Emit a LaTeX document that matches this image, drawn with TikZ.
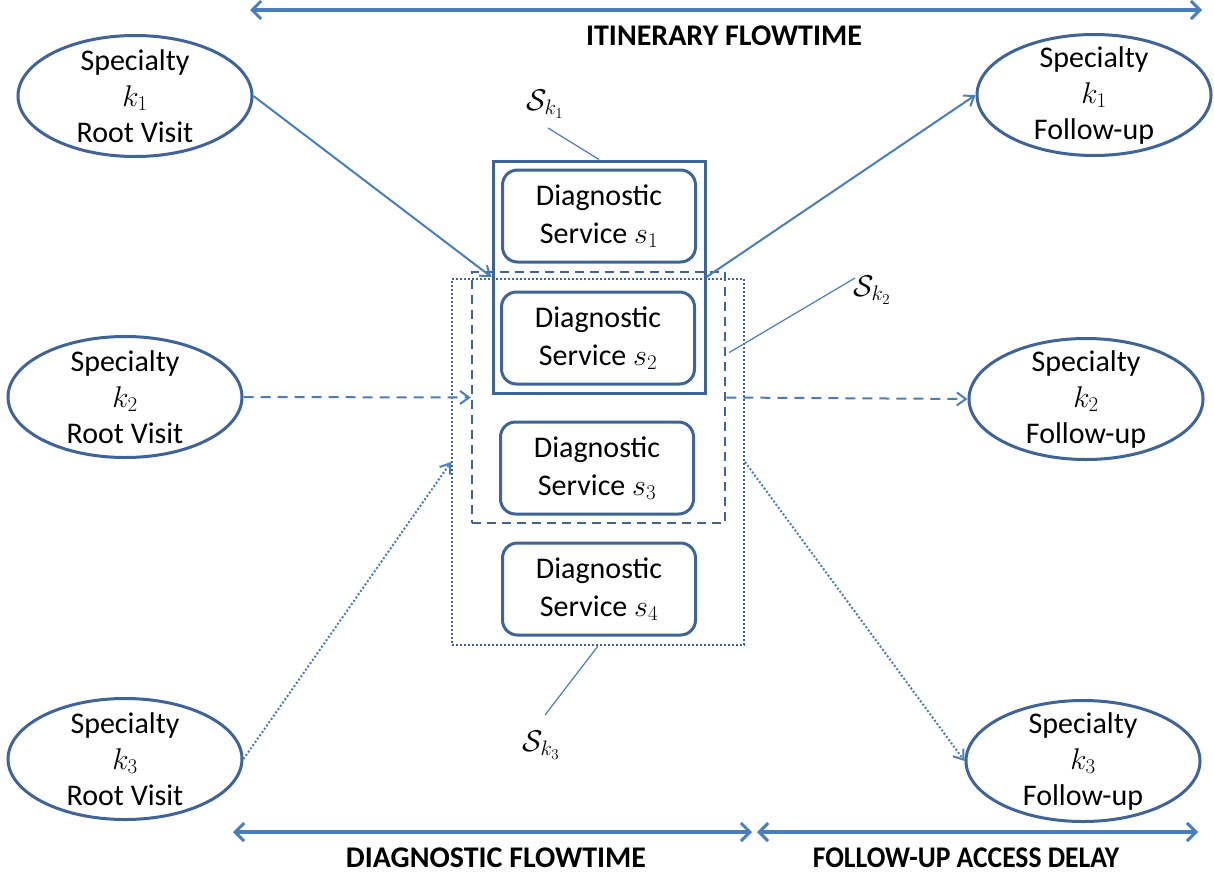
\documentclass[tikz,border=0pt]{standalone}
\usepackage{fix-cm}
\usepackage{fontspec}
\setmainfont{Carlito}
\usetikzlibrary{shapes.geometric,arrows.meta,calc}
\definecolor{dkblue}{HTML}{3F6495}
\definecolor{ltblue}{HTML}{4A7EBB}
\begin{document}
\begin{tikzpicture}[x=1pt,y=-1pt,
  every node/.style={font=\fontsize{30}{36}\selectfont, inner sep=0pt},
  spec/.style={ellipse, draw=dkblue, line width=3pt, minimum width=234pt, minimum height=121pt},
  spectext/.style={align=center},
  diag/.style={rectangle, rounded corners=15pt, draw=dkblue, line width=3pt, align=center,
    minimum width=193pt, minimum height=92pt, font=\fontsize{30}{38}\selectfont},
  setsolid/.style={rectangle, draw=dkblue, line width=3pt},
  setdashed/.style={rectangle, draw=dkblue, line width=2.5pt, dash pattern=on 9pt off 6pt},
  setdotted/.style={rectangle, draw=dkblue, line width=2pt, dash pattern=on 2pt off 2pt},
  flow/.style={draw=ltblue, line width=2pt, -{Straight Barb[length=9pt,width=13pt,line width=2pt]}},
  leader/.style={draw=ltblue, line width=1.2pt},
  span/.style={draw=ltblue, line width=3.5pt,
    {Straight Barb[length=9pt,width=18pt,line width=3pt]}-{Straight Barb[length=9pt,width=18pt,line width=3pt]}},
  head/.style={font=\fontsize{30}{34}\selectfont\bfseries}
]
\useasboundingbox[fill=white] (0,0) rectangle (1214,878);

% set boxes
\node[setdotted, minimum width=292pt, minimum height=366pt] (Sk3) at (598,462) {};
\node[setdashed, minimum width=253pt, minimum height=251pt] (Sk2) at (598.5,397.5) {};
\node[setsolid, minimum width=212pt, minimum height=232pt] (Sk1) at (599,277) {};

% diagnostic services
\node[diag, fill=white] (s1) at (599,216) {Diagnostic\\Service $s_1$};
\node[diag, fill=white] (s2) at (598,338) {Diagnostic\\Service $s_2$};
\node[diag, fill=white] (s3) at (597,468) {Diagnostic\\Service $s_3$};
\node[diag, fill=white] (s4) at (599,589) {Diagnostic\\Service $s_4$};

% root visits
\node[spec] (r1) at (135,96) {};
\node[spectext] (r1t) at (r1) {Specialty\\$k_1$\\Root Visit};
\node[spec] (r2) at (125,397) {};
\node[spectext] (r2t) at (r2) {Specialty\\$k_2$\\Root Visit};
\node[spec] (r3) at (125,759) {};
\node[spectext] (r3t) at (r3) {Specialty\\$k_3$\\Root Visit};

% follow-ups
\node[spec] (f1) at (1094,95) {};
\node[spectext] (f1t) at (f1) {Specialty\\$k_1$\\Follow-up};
\node[spec] (f2) at (1086,399) {};
\node[spectext] (f2t) at (f2) {Specialty\\$k_2$\\Follow-up};
\node[spec] (f3) at (1083,761) {};
\node[spectext] (f3t) at (f3) {Specialty\\$k_3$\\Follow-up};

% flows
\draw[flow] (r1.east) -- (Sk1.west);
\draw[flow] (Sk1.east) -- (f1.west);
\draw[flow, dash pattern=on 10pt off 7pt] (r2.east) -- (Sk2.west);
\draw[flow, dash pattern=on 10pt off 7pt] (Sk2.east) -- (f2.west);
\draw[flow, dash pattern=on 2pt off 2pt] (r3.east) -- (Sk3.west);
\draw[flow, dash pattern=on 2pt off 2pt] (Sk3.east) -- (f3.west);

% set labels
\node (l1) at (545,104) {$\mathcal{S}_{k_1}$};
\coordinate (l1a) at (548,128);
\draw[leader] (l1a) -- (Sk1.north);
\node (l2) at (872,290) {$\mathcal{S}_{k_2}$};
\coordinate (l2a) at (855,278);
\coordinate (l2b) at ($(Sk2.east)+(3,-45)$);
\draw[leader] (l2a) -- (l2b);
\node (l3) at (541,745) {$\mathcal{S}_{k_3}$};
\coordinate (l3a) at (545,715);
\draw[leader] (l3a) -- (Sk3.south);

% flowtime spans
\coordinate (it1) at (250,10);
\coordinate (it2) at (1202,10);
\draw[span] (it1) -- (it2);
\node[head] (itl) at (724,36) {ITINERARY FLOWTIME};

\coordinate (d1) at (233,832);
\coordinate (d2) at (752,832);
\coordinate (d3) at (757,832);
\coordinate (d4) at (1198,832);
\draw[span] (d1) -- (d2);
\draw[span] (d3) -- (d4);
\node[head] (dl) at (496,858) {DIAGNOSTIC FLOWTIME};
\node[head] (fl) at (966,858) {\scalebox{0.92}[1]{FOLLOW-UP ACCESS DELAY}};
\end{tikzpicture}
\end{document}
